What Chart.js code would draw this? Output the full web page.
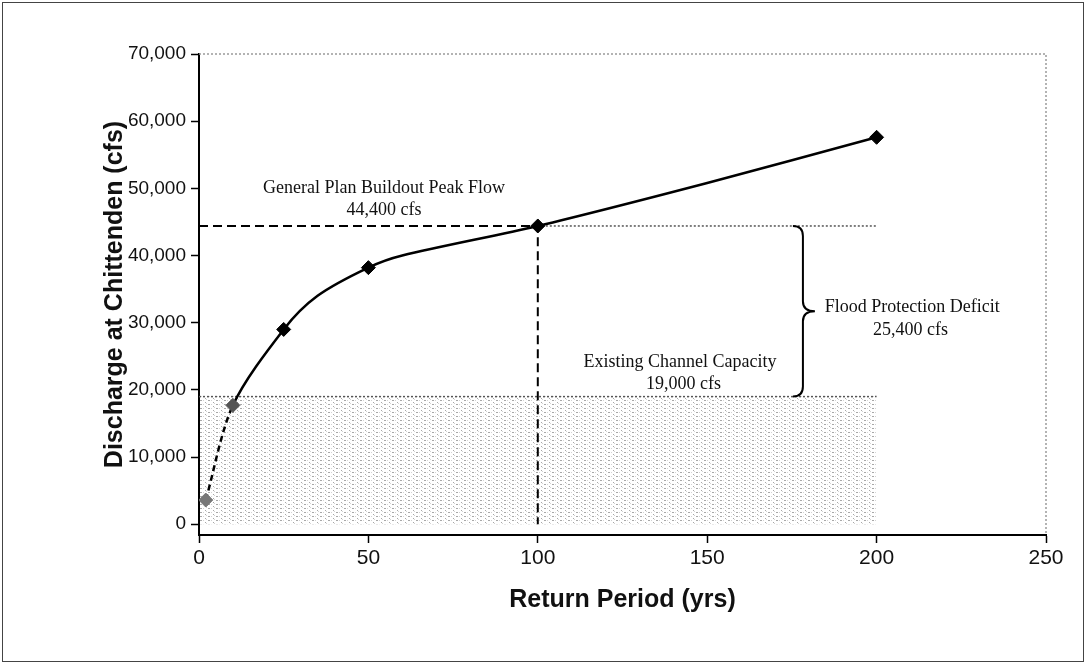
<!DOCTYPE html>
<html>
<head>
<meta charset="utf-8">
<script src="https://cdn.jsdelivr.net/npm/chart.js@4.4.1/dist/chart.umd.min.js"></script>
<style>
    html, body { margin: 0; padding: 0; background: #fff; }
    #wrap { position: relative; width: 1087px; height: 672px; }
</style>
</head>
<body>
<div id="wrap"><canvas id="dischargeChart"></canvas></div>
<script>
// frequency points (return period in years, discharge in cfs)
const returnPeriods = [2, 10, 25, 50, 100, 200]
const peakFlows = [3600, 17700, 29000, 38200, 44400, 57600]

// the drawn curve follows a few more bends than the markers
const curveYears = [2, 10, 25, 35, 50, 60, 100, 150, 200]
const curveFlows = [3600, 17700, 29000, 34000, 38200, 40000, 44400, 50800, 57600]

const channelCapacity = 19000
const buildoutPeak = 44400
const designYear = 100
const lastYear = 200

const yTicks = [0, 10000, 20000, 30000, 40000, 50000, 60000, 70000]
const xTicks = [0, 50, 100, 150, 200, 250]

function toPoints(xs, ys){
    return xs.map((x, i) => ({x, y: ys[i]}))
}

function makeStipple(){
    const c = document.createElement('canvas')
    c.width = 8
    c.height = 4
    const g = c.getContext('2d')
    g.fillStyle = 'rgba(110,110,110,0.6)'
    g.fillRect(0, 0, 2, 1)
    g.fillRect(5, 2, 1, 1)
    g.fillStyle = 'rgba(160,160,160,0.45)'
    g.fillRect(3, 0, 1, 1)
    g.fillRect(6, 3, 1, 1)
    return g.createPattern(c, 'repeat')
}

const annotationsPlugin = {
    id: 'annotations',
    beforeDatasetsDraw(chart){
        const {ctx, chartArea} = chart
        ctx.save()
        ctx.strokeStyle = '#9a9a9a'
        ctx.lineWidth = 1.5
        ctx.setLineDash([2, 2])
        ctx.beginPath()
        ctx.moveTo(chartArea.left, chartArea.top)
        ctx.lineTo(chartArea.right, chartArea.top)
        ctx.lineTo(chartArea.right, chartArea.bottom)
        ctx.stroke()
        ctx.restore()
    },
    afterDraw(chart){
        const {ctx} = chart
        const xs = chart.scales.x
        const ys = chart.scales.y
        ctx.save()
        ctx.fillStyle = '#111'
        ctx.font = '18px "Liberation Serif", "Times New Roman", serif'
        ctx.textAlign = 'center'
        ctx.textBaseline = 'middle'
        const label = (text, x, y) => ctx.fillText(text, xs.getPixelForValue(x), ys.getPixelForValue(y))
        label('General Plan Buildout Peak Flow', 54.6, 50000)
        label('44,400 cfs', 54.6, 46750)
        label('Existing Channel Capacity', 142, 24100)
        label('19,000 cfs', 143, 20850)
        label('Flood Protection Deficit', 210.5, 32300)
        label('25,400 cfs', 210, 28900)

        // brace between channel capacity and buildout peak
        const bx = xs.getPixelForValue(175.3)
        const top = ys.getPixelForValue(buildoutPeak)
        const bot = ys.getPixelForValue(channelCapacity)
        const mid = (top + bot) / 2
        const w = 10
        ctx.strokeStyle = '#000'
        ctx.lineWidth = 2
        ctx.beginPath()
        ctx.moveTo(bx, top)
        ctx.quadraticCurveTo(bx + w, top, bx + w, top + w)
        ctx.lineTo(bx + w, mid - w)
        ctx.quadraticCurveTo(bx + w, mid, bx + 2 * w + 2, mid)
        ctx.quadraticCurveTo(bx + w, mid, bx + w, mid + w)
        ctx.lineTo(bx + w, bot - w)
        ctx.quadraticCurveTo(bx + w, bot, bx, bot)
        ctx.stroke()

        // frame round the whole picture
        ctx.strokeStyle = '#444'
        ctx.lineWidth = 1
        ctx.strokeRect(2.5, 2.5, 1081, 659)
        ctx.restore()
    }
}

document.addEventListener('DOMContentLoaded', () => {
    Chart.defaults.color = '#111'
    Chart.defaults.font.family = '"Liberation Sans", Arial, sans-serif'

    const ctx = document.getElementById('dischargeChart').getContext('2d')

    new Chart(ctx, {
        type: 'scatter',
        data: {
            datasets: [
                {
                    label: 'Existing channel capacity',
                    data: [{x: 0, y: channelCapacity}, {x: lastYear, y: channelCapacity}],
                    showLine: true,
                    borderColor: '#555',
                    borderWidth: 1.5,
                    borderDash: [2, 2],
                    pointRadius: 0,
                    fill: 'origin',
                    backgroundColor: makeStipple(),
                    order: 5
                },
                {
                    label: 'Buildout peak (dotted)',
                    data: [{x: designYear, y: buildoutPeak}, {x: lastYear, y: buildoutPeak}],
                    showLine: true,
                    borderColor: '#555',
                    borderWidth: 1.5,
                    borderDash: [2, 2],
                    pointRadius: 0,
                    order: 4
                },
                {
                    label: 'Buildout peak (dashed)',
                    data: [{x: 0, y: buildoutPeak}, {x: designYear, y: buildoutPeak}, {x: designYear, y: 0}],
                    showLine: true,
                    borderColor: '#000',
                    borderWidth: 2,
                    borderDash: [9, 5],
                    pointRadius: 0,
                    order: 3
                },
                {
                    label: 'Curve',
                    data: toPoints(curveYears, curveFlows),
                    showLine: true,
                    borderColor: '#000',
                    borderWidth: 2.5,
                    tension: 0.3,
                    pointRadius: 0,
                    segment: {
                        borderDash: c => c.p1.parsed.y < channelCapacity ? [6, 4] : undefined
                    },
                    order: 2
                },
                {
                    label: 'Peak flows',
                    data: toPoints(returnPeriods, peakFlows),
                    pointStyle: 'rectRot',
                    pointRadius: 7,
                    pointBackgroundColor: ['#777', '#555', '#000', '#000', '#000', '#000'],
                    pointBorderColor: ['#777', '#555', '#000', '#000', '#000', '#000'],
                    order: 1
                }
            ]
        },
        options: {
            responsive: true,
            maintainAspectRatio: false,
            animation: false,
            layout: {
                padding: {top: 54, right: 41, bottom: 0, left: 0}
            },
            scales: {
                x: {
                    type: 'linear',
                    min: 0,
                    max: 250,
                    afterBuildTicks: scale => { scale.ticks = xTicks.map(value => ({value})) },
                    afterFit: scale => { scale.height = 137 },
                    grid: {drawOnChartArea: false, tickLength: 8, tickColor: '#000', tickWidth: 1.5},
                    border: {color: '#000', width: 2},
                    ticks: {font: {size: 21}, padding: 3, color: '#111'},
                    title: {
                        display: true,
                        text: 'Return Period (yrs)',
                        font: {size: 25, weight: 'bold'},
                        padding: {top: 4, bottom: 57}
                    }
                },
                y: {
                    min: -1600,
                    max: 70000,
                    afterBuildTicks: scale => { scale.ticks = yTicks.map(value => ({value})) },
                    afterFit: scale => { scale.width = 199 },
                    grid: {drawOnChartArea: false, tickLength: 8, tickColor: '#000', tickWidth: 1.5},
                    border: {color: '#000', width: 2},
                    ticks: {
                        font: {size: 19},
                        padding: 5,
                        color: '#111',
                        callback: value => value.toLocaleString('en-US')
                    },
                    title: {
                        display: true,
                        text: 'Discharge at Chittenden (cfs)',
                        font: {size: 25, weight: 'bold'},
                        padding: {top: 100, bottom: 0}
                    }
                }
            },
            plugins: {
                legend: {display: false},
                tooltip: {enabled: false}
            }
        },
        plugins: [annotationsPlugin]
    })
})
</script>
</body>
</html>
